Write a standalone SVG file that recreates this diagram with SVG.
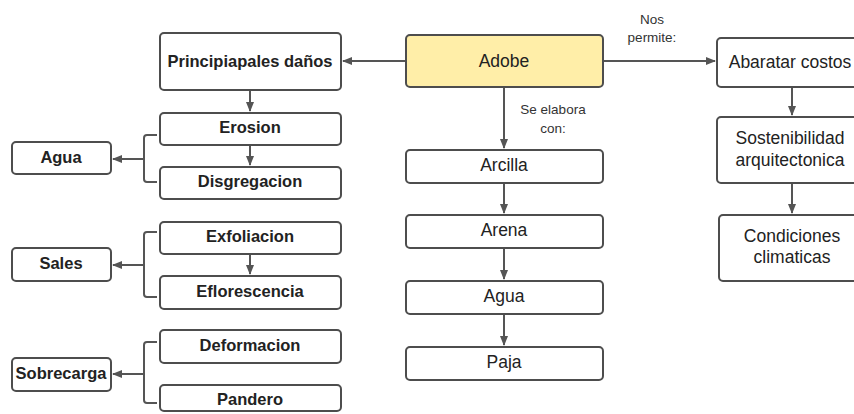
<svg xmlns="http://www.w3.org/2000/svg" width="854" height="414" viewBox="0 0 854 414">
<defs>
<marker id="ah" markerWidth="10" markerHeight="10" refX="9" refY="5" orient="auto" markerUnits="userSpaceOnUse">
<path d="M0,1 L10,5 L0,9 Z" fill="#555"/>
</marker>
<style>
.box{fill:#fff;stroke:#4d4d4d;stroke-width:2}
.yel{fill:#ffeea8}
.t{font-family:"Liberation Sans",Arial,sans-serif;font-size:17.5px;fill:#222;text-anchor:middle}
.b{font-family:"Liberation Sans",Arial,sans-serif;font-size:16.5px;font-weight:bold;fill:#222;text-anchor:middle}
.s{font-family:"Liberation Sans",Arial,sans-serif;font-size:13.5px;fill:#333;text-anchor:middle}
.c{fill:none;stroke:#555;stroke-width:2}
</style>
</defs>
<rect width="854" height="414" fill="#fff"/>
<g id="connectors">
<path class="c" d="M406,61 H343" marker-end="url(#ah)"/>
<path class="c" d="M603,61 H715" marker-end="url(#ah)"/>
<path class="c" d="M504,87 V148" marker-end="url(#ah)"/>
<path class="c" d="M504,183 V213" marker-end="url(#ah)"/>
<path class="c" d="M504,248 V279" marker-end="url(#ah)"/>
<path class="c" d="M504,314 V345" marker-end="url(#ah)"/>
<path class="c" d="M792,87 V115" marker-end="url(#ah)"/>
<path class="c" d="M792,183 V213" marker-end="url(#ah)"/>
<path class="c" d="M250,90 V111" marker-end="url(#ah)"/>
<path class="c" d="M250,145 V165" marker-end="url(#ah)"/>
<path class="c" d="M250,254 V274" marker-end="url(#ah)"/>
<path class="c" d="M157,135 H147 Q144,135 144,138 V179 Q144,182 147,182 H157"/>
<path class="c" d="M144,159 H113" marker-end="url(#ah)"/>
<path class="c" d="M157,232 H147 Q144,232 144,235 V294 Q144,297 147,297 H157"/>
<path class="c" d="M144,265 H113" marker-end="url(#ah)"/>
<path class="c" d="M157,342 H147 Q144,342 144,345 V400 Q144,403 147,403 H157"/>
<path class="c" d="M144,374 H113" marker-end="url(#ah)"/>
<text class="s" x="652" y="24">Nos</text>
<text class="s" x="652" y="42">permite:</text>
<text class="s" x="553" y="114">Se elabora</text>
<text class="s" x="553" y="133">con:</text>
</g>
<g id="adobe"><rect class="box yel" x="406" y="35" width="197" height="52" rx="4"/><text class="t" x="504" y="67">Adobe</text></g>
<g id="principales"><rect class="box" x="160" y="33" width="181" height="57" rx="4"/><text class="b" x="250" y="67">Principiapales daños</text></g>
<g id="erosion"><rect class="box" x="160" y="113" width="181" height="32" rx="4"/><text class="b" x="250" y="133">Erosion</text></g>
<g id="disgregacion"><rect class="box" x="160" y="167" width="181" height="32" rx="4"/><text class="b" x="250" y="187">Disgregacion</text></g>
<g id="agua-left"><rect class="box" x="12" y="142" width="99" height="32" rx="4"/><text class="b" x="61" y="163">Agua</text></g>
<g id="exfoliacion"><rect class="box" x="160" y="222" width="181" height="32" rx="4"/><text class="b" x="250" y="242">Exfoliacion</text></g>
<g id="eflorescencia"><rect class="box" x="160" y="276" width="181" height="33" rx="4"/><text class="b" x="250" y="297">Eflorescencia</text></g>
<g id="sales"><rect class="box" x="12" y="248" width="99" height="33" rx="4"/><text class="b" x="61" y="269">Sales</text></g>
<g id="deformacion"><rect class="box" x="160" y="330" width="181" height="33" rx="4"/><text class="b" x="250" y="351">Deformacion</text></g>
<g id="pandero"><rect class="box" x="160" y="385" width="181" height="26" rx="4"/><text class="b" x="250" y="405">Pandero</text></g>
<g id="sobrecarga"><rect class="box" x="12" y="358" width="99" height="33" rx="4"/><text class="b" x="61" y="379">Sobrecarga</text></g>
<g id="arcilla"><rect class="box" x="406" y="150" width="197" height="33" rx="4"/><text class="t" x="504" y="171">Arcilla</text></g>
<g id="arena"><rect class="box" x="406" y="215" width="197" height="33" rx="4"/><text class="t" x="504" y="236">Arena</text></g>
<g id="agua"><rect class="box" x="406" y="281" width="197" height="33" rx="4"/><text class="t" x="504" y="302">Agua</text></g>
<g id="paja"><rect class="box" x="406" y="347" width="197" height="33" rx="4"/><text class="t" x="504" y="368">Paja</text></g>
<g id="abaratar"><rect class="box" x="717" y="38" width="146" height="49" rx="4"/><text class="t" x="790" y="68">Abaratar costos</text></g>
<g id="sostenibilidad"><rect class="box" x="717" y="117" width="146" height="66" rx="4"/><text class="t" x="790" y="144">Sostenibilidad</text><text class="t" x="790" y="166">arquitectonica</text></g>
<g id="condiciones"><rect class="box" x="719" y="215" width="146" height="66" rx="4"/><text class="t" x="792" y="242">Condiciones</text><text class="t" x="792" y="263">climaticas</text></g>
</svg>
